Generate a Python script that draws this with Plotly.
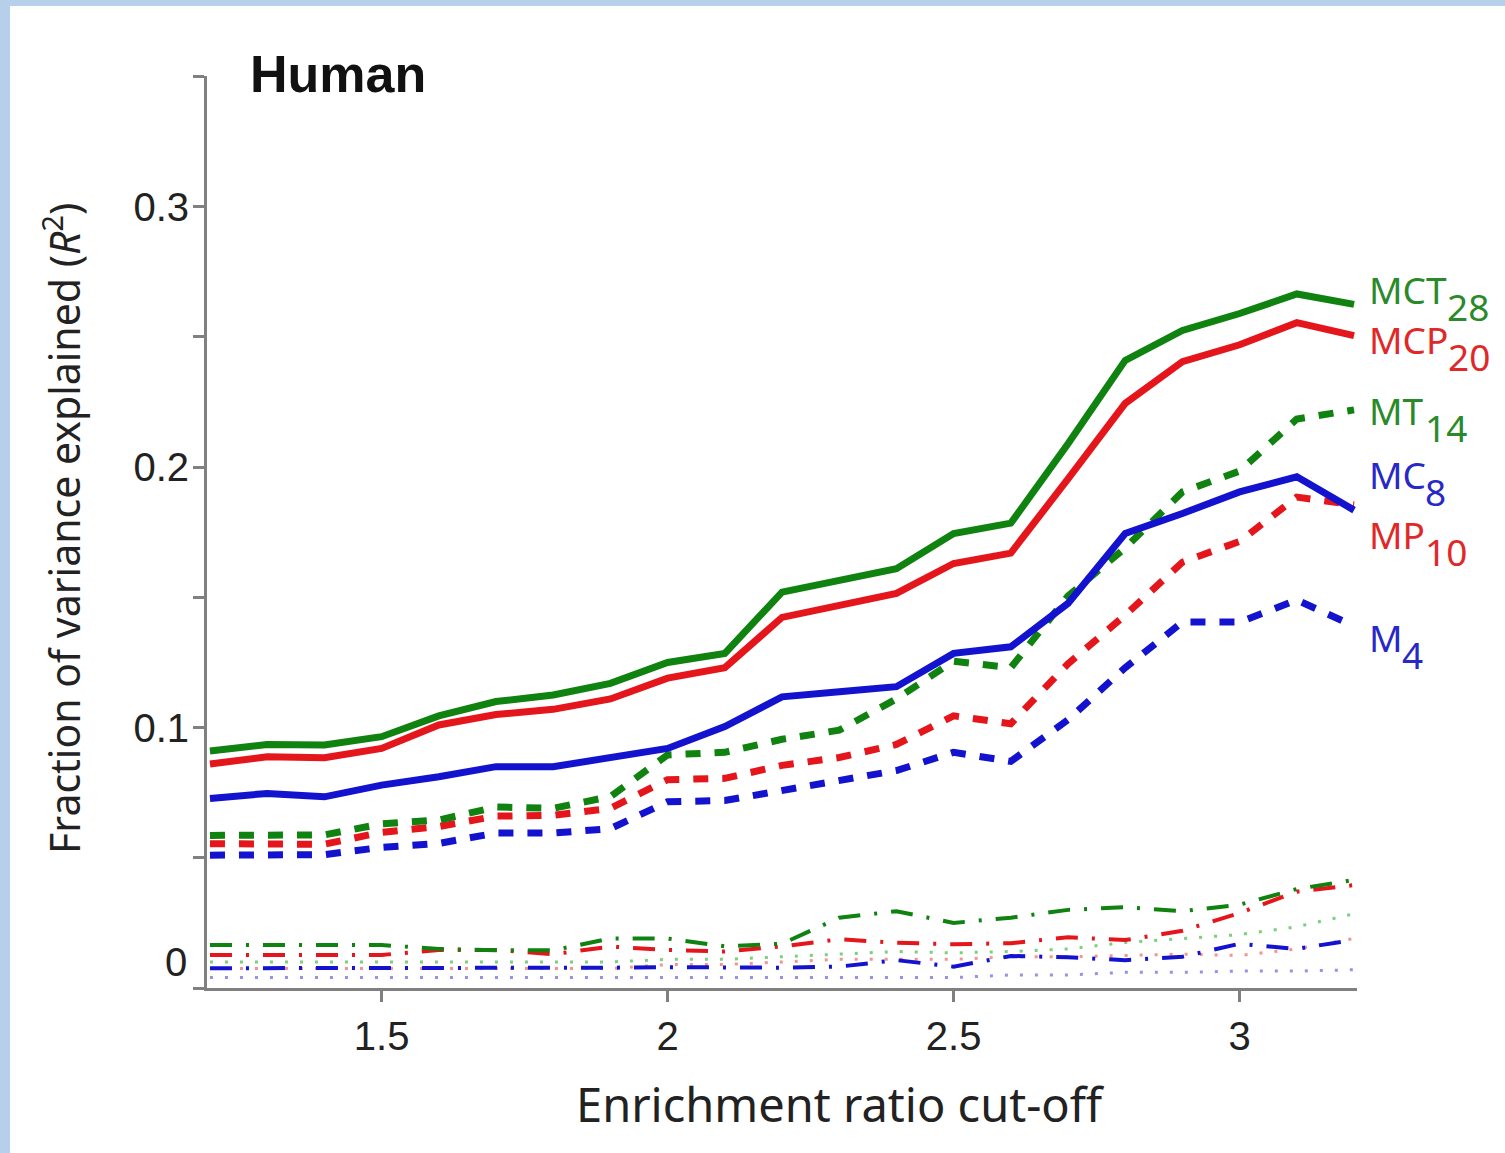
import plotly.graph_objects as go

# ---------------- data ----------------
cutoff = [1.2, 1.3, 1.4, 1.5, 1.6, 1.7, 1.8, 1.9, 2.0, 2.1, 2.2,
          2.3, 2.4, 2.5, 2.6, 2.7, 2.8, 2.9, 3.0, 3.1, 3.2]

mct28 = [0.091, 0.0935, 0.0933, 0.0965, 0.1045, 0.110, 0.1125, 0.117, 0.125, 0.1285, 0.152,
         0.1566, 0.161, 0.1745, 0.1785, 0.209, 0.241, 0.2525, 0.259, 0.2665, 0.2625]
mcp20 = [0.086, 0.0888, 0.0884, 0.092, 0.101, 0.105, 0.107, 0.111, 0.119, 0.123, 0.1423,
         0.147, 0.1515, 0.163, 0.167, 0.1955, 0.2245, 0.2405, 0.247, 0.2555, 0.2505]
mc8 = [0.0728, 0.0747, 0.0734, 0.0779, 0.0811, 0.085, 0.085, 0.0882, 0.092, 0.1004, 0.1118,
       0.1138, 0.1157, 0.1285, 0.131, 0.1477, 0.1745, 0.1822, 0.1905, 0.1963, 0.1835]
mt14 = [0.0586, 0.0586, 0.0588, 0.063, 0.0645, 0.0695, 0.069, 0.0735, 0.0895, 0.0905, 0.0955,
        0.099, 0.111, 0.1255, 0.123, 0.1505, 0.169, 0.1905, 0.1985, 0.2185, 0.222]
mp10 = [0.0554, 0.0554, 0.0552, 0.0598, 0.062, 0.066, 0.0663, 0.069, 0.080, 0.0805, 0.0855,
        0.0885, 0.0935, 0.1045, 0.1015, 0.1245, 0.1432, 0.1635, 0.1715, 0.1885, 0.1855]
m4 = [0.051, 0.051, 0.0512, 0.054, 0.0555, 0.0595, 0.0595, 0.0612, 0.0715, 0.072, 0.0757,
      0.0795, 0.0835, 0.0905, 0.087, 0.103, 0.123, 0.1405, 0.1405, 0.149, 0.139]

# low-lying curves (unlabelled)
green_dashdot = [0.0165, 0.0165, 0.0165, 0.0165, 0.015, 0.0145, 0.0145, 0.019, 0.019, 0.016, 0.017,
                 0.027, 0.0295, 0.025, 0.027, 0.030, 0.031, 0.0295, 0.032, 0.038, 0.0415]
red_dashdot = [0.0127, 0.0127, 0.0127, 0.0127, 0.0146, 0.0146, 0.013, 0.0159, 0.0146, 0.014, 0.016,
               0.0187, 0.0174, 0.0168, 0.0172, 0.0195, 0.0184, 0.022, 0.0288, 0.037, 0.0395]
blue_dashdot = [0.0076, 0.0076, 0.0076, 0.0076, 0.0078, 0.0076, 0.0078, 0.0078, 0.008, 0.008, 0.0078,
                0.0082, 0.0107, 0.0082, 0.0123, 0.0118, 0.0107, 0.012, 0.017, 0.015, 0.0185]
green_dot = [0.010, 0.010, 0.010, 0.010, 0.010, 0.010, 0.010, 0.010, 0.011, 0.011, 0.012,
             0.013, 0.014, 0.0135, 0.014, 0.015, 0.0175, 0.019, 0.0205, 0.0235, 0.0285]
red_dot = [0.0075, 0.0075, 0.0075, 0.0075, 0.0075, 0.0075, 0.0075, 0.0075, 0.009, 0.009, 0.010,
           0.011, 0.011, 0.011, 0.012, 0.012, 0.0125, 0.013, 0.0125, 0.015, 0.019]
blue_dot = [0.004, 0.004, 0.004, 0.004, 0.004, 0.004, 0.004, 0.004, 0.004, 0.004, 0.004,
            0.004, 0.004, 0.004, 0.005, 0.005, 0.006, 0.006, 0.0065, 0.0065, 0.007]

x_ticks = [1.5, 2.0, 2.5, 3.0]
x_ticktext = ["1.5", "2", "2.5", "3"]
y_ticks = [0.1, 0.2, 0.3]
y_ticktext = ["0.1", "0.2", "0.3"]
y_minor = [0, 0.05, 0.15, 0.25, 0.35]

label_main = ["MCT", "MCP", "MT", "MC", "MP", "M"]
label_sub = ["28", "20", "14", "8", "10", "4"]

title_text = "Human"
x_title = "Enrichment ratio cut-off"
y_title = "Fraction of variance explained (<i>R</i><sup>2</sup>)"
zero_label = "0"

# ---------------- style ----------------
GREEN = "#0f820f"
RED = "#e5161b"
BLUE = "#1212cf"
AXIS = "#808080"

W, H = 1505, 1153
ML, MR, MT, MB = 207, 148, 76, 165
PW, PH = W - ML - MR, H - MT - MB


def px_x(px):
    return (px - ML) / PW


def px_y(py):
    return (H - MB - py) / PH


fig = go.Figure()

low = [
    (green_dot, "#5cc45c", "3px,12px", 3, 0.8),
    (red_dot, "#f07a7a", "3px,12px", 3, 0.8),
    (blue_dot, "#7a7ae0", "3px,12px", 3, 0.8),
    (blue_dashdot, BLUE, "22px,14px,3px,14px", 4, 1.0),
    (red_dashdot, RED, "22px,14px,3px,14px", 4, 1.0),
    (green_dashdot, GREEN, "22px,14px,3px,14px", 4, 1.0),
]
for ys, col, dash, w, op in low:
    fig.add_trace(go.Scatter(x=cutoff, y=ys, mode="lines", opacity=op,
                             line=dict(color=col, width=w, dash=dash)))

main = [
    (m4, BLUE, "15px,14px"),
    (mp10, RED, "15px,14px"),
    (mt14, GREEN, "15px,14px"),
    (mc8, BLUE, "solid"),
    (mcp20, RED, "solid"),
    (mct28, GREEN, "solid"),
]
for ys, col, dash in main:
    fig.add_trace(go.Scatter(x=cutoff, y=ys, mode="lines",
                             line=dict(color=col, width=7, dash=dash)))

tick_font = dict(family="Liberation Sans, Arial, sans-serif", size=40, color="#222222")

fig.update_xaxes(range=[1.1948, 3.2052], tickvals=x_ticks, ticktext=x_ticktext,
                 ticks="outside", ticklen=11, tickwidth=3, tickcolor=AXIS,
                 showline=True, linecolor=AXIS, linewidth=3, showgrid=False,
                 zeroline=False, tickfont=tick_font, ticklabelstandoff=0)
fig.update_yaxes(range=[0, 0.3502], tickvals=y_ticks, ticktext=y_ticktext,
                 ticks="outside", ticklen=11, tickwidth=3, tickcolor=AXIS,
                 showline=True, linecolor=AXIS, linewidth=3, showgrid=False,
                 zeroline=False, tickfont=tick_font, ticklabelstandoff=-4,
                 minor=dict(tickvals=y_minor, ticks="outside", ticklen=11,
                            tickwidth=3, tickcolor=AXIS, showgrid=False))

ann = []
# "0" label sits above its tick in the original
ann.append(dict(text=zero_label, xref="paper", yref="paper", x=px_x(189), y=px_y(962),
                xanchor="right", yanchor="middle", showarrow=False, font=tick_font))
# title
ann.append(dict(text="<b>" + title_text + "</b>", xref="paper", yref="paper",
                x=px_x(248), y=px_y(74), xanchor="left", yanchor="middle", showarrow=False,
                font=dict(family="Liberation Sans, Arial, sans-serif", size=52, color="#111111")))
# axis titles
ann.append(dict(text=x_title, xref="paper", yref="paper", x=px_x(840), y=px_y(1104),
                xanchor="center", yanchor="middle", showarrow=False,
                font=dict(family="Noto Sans, sans-serif", size=47, color="#222222")))
ann.append(dict(text=y_title, xref="paper", yref="paper", x=px_x(62), y=px_y(529),
                xanchor="center", yanchor="middle", showarrow=False, textangle=-90,
                font=dict(family="Noto Sans, sans-serif", size=41, color="#222222")))

# series labels
lab_cols = ["#2a8a2a", "#e02828", "#2a8a2a", "#2828c8", "#e02828", "#2828c8"]
lab_y = [291.5, 341.5, 412.5, 476, 536, 639]
sub_x = [1447, 1448, 1425, 1425, 1425, 1402]
for txt, sub, col, cy, sx in zip(label_main, label_sub, lab_cols, lab_y, sub_x):
    f = dict(family="Noto Sans, sans-serif", size=37, color=col)
    ann.append(dict(text=txt, xref="paper", yref="paper", x=px_x(1367), y=px_y(cy - 2),
                    xanchor="left", yanchor="middle", showarrow=False, font=f))
    ann.append(dict(text=sub, xref="paper", yref="paper", x=px_x(sx - 2), y=px_y(cy + 15),
                    xanchor="left", yanchor="middle", showarrow=False, font=f))

shapes = [
    dict(type="rect", xref="paper", yref="paper", x0=px_x(0), x1=px_x(10),
         y0=px_y(H), y1=px_y(0), fillcolor="#b6cfea", line=dict(width=0), layer="above"),
    dict(type="rect", xref="paper", yref="paper", x0=px_x(0), x1=px_x(W),
         y0=px_y(6), y1=px_y(0), fillcolor="#b6cfea", line=dict(width=0), layer="above"),
]

fig.update_layout(width=W, height=H, margin=dict(l=ML, r=MR, t=MT, b=MB, autoexpand=False),
                  paper_bgcolor="white", plot_bgcolor="white", showlegend=False,
                  annotations=ann, shapes=shapes, hovermode=False)

fig.write_html("out.html")
